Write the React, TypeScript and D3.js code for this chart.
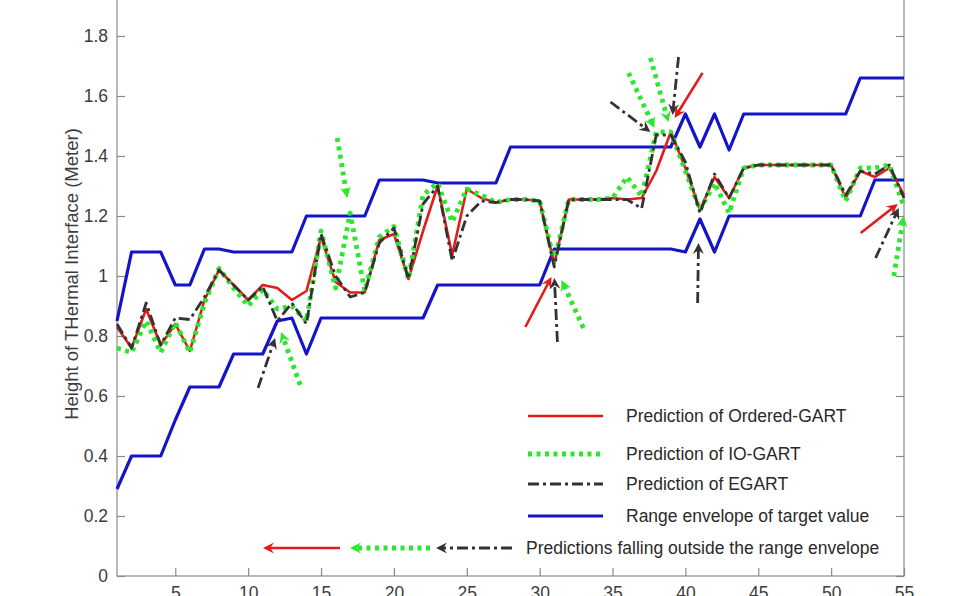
import React, { useEffect, useRef } from "react";
import * as d3 from "d3";

// sample index 1..55 on the x axis
const samples = d3.range(1, 56);

const upperEnvelope = [
  0.85, 1.08, 1.08, 1.08, 0.97, 0.97, 1.09, 1.09, 1.08, 1.08,
  1.08, 1.08, 1.08, 1.2, 1.2, 1.2, 1.2, 1.2, 1.32, 1.32,
  1.32, 1.32, 1.31, 1.31, 1.31, 1.31, 1.31, 1.43, 1.43, 1.43,
  1.43, 1.43, 1.43, 1.43, 1.43, 1.43, 1.43, 1.43, 1.43, 1.54,
  1.43, 1.54, 1.42, 1.54, 1.54, 1.54, 1.54, 1.54, 1.54, 1.54,
  1.54, 1.66, 1.66, 1.66, 1.66,
];

const lowerEnvelope = [
  0.29, 0.4, 0.4, 0.4, 0.52, 0.63, 0.63, 0.63, 0.74, 0.74,
  0.74, 0.85, 0.86, 0.74, 0.86, 0.86, 0.86, 0.86, 0.86, 0.86,
  0.86, 0.86, 0.97, 0.97, 0.97, 0.97, 0.97, 0.97, 0.97, 0.97,
  1.09, 1.09, 1.09, 1.09, 1.09, 1.09, 1.09, 1.09, 1.09, 1.08,
  1.19, 1.08, 1.2, 1.2, 1.2, 1.2, 1.2, 1.2, 1.2, 1.2,
  1.2, 1.2, 1.32, 1.32, 1.32,
];

const orderedGart = [
  0.83, 0.76, 0.89, 0.77, 0.84, 0.75, 0.92, 1.02, 0.97, 0.92,
  0.97, 0.96, 0.92, 0.95, 1.13, 0.98, 0.945, 0.945, 1.12, 1.14,
  0.99, 1.15, 1.3, 1.07, 1.29, 1.26, 1.245, 1.255, 1.255, 1.25,
  1.04, 1.255, 1.255, 1.255, 1.26, 1.255, 1.26, 1.35, 1.48, 1.36,
  1.22, 1.33, 1.26, 1.36, 1.37, 1.37, 1.37, 1.37, 1.37, 1.37,
  1.26, 1.35, 1.33, 1.36, 1.27,
];

const ioGart = [
  0.76, 0.745, 0.85, 0.745, 0.845, 0.745, 0.91, 1.025, 0.96, 0.9,
  0.955, 0.89, 0.9, 0.85, 1.15, 0.96, 1.21, 0.95, 1.13, 1.165,
  0.99, 1.27, 1.31, 1.18, 1.29, 1.27, 1.245, 1.255, 1.255, 1.25,
  1.05, 1.255, 1.255, 1.255, 1.26, 1.33, 1.265, 1.48, 1.48, 1.35,
  1.22, 1.31, 1.21, 1.36, 1.37, 1.37, 1.37, 1.37, 1.37, 1.37,
  1.25, 1.36, 1.36, 1.37, 1.23,
];

const egart = [
  0.84, 0.76, 0.91, 0.77, 0.86, 0.855, 0.93, 1.02, 0.97, 0.92,
  0.965, 0.85, 0.91, 0.84, 1.14, 1.0, 0.93, 0.945, 1.11, 1.16,
  0.99, 1.24, 1.3, 1.05, 1.2, 1.25, 1.245, 1.255, 1.255, 1.25,
  1.03, 1.255, 1.255, 1.255, 1.255, 1.255, 1.225, 1.47, 1.47, 1.38,
  1.21, 1.34, 1.26, 1.36, 1.37, 1.37, 1.37, 1.37, 1.37, 1.37,
  1.27, 1.35, 1.34, 1.37, 1.26,
];

const xTicks = [5, 10, 15, 20, 25, 30, 35, 40, 45, 50, 55];
const yTicks = [0, 0.2, 0.4, 0.6, 0.8, 1, 1.2, 1.4, 1.6, 1.8];
const yTickLabels = ["0", "0.2", "0.4", "0.6", "0.8", "1", "1.2", "1.4", "1.6", "1.8"];

// arrows marking predictions outside the envelope (data units: from -> to)
const outsideArrows = [
  { kind: "egart", x0: 10.68, y0: 0.627, x1: 11.85, y1: 0.793 },
  { kind: "io", x0: 13.57, y0: 0.637, x1: 12.26, y1: 0.813 },
  { kind: "io", x0: 16.11, y0: 1.46, x1: 16.8, y1: 1.26 },
  { kind: "ordered", x0: 29.02, y0: 0.83, x1: 30.81, y1: 0.997 },
  { kind: "egart", x0: 31.22, y0: 0.78, x1: 31.01, y1: 0.993 },
  { kind: "io", x0: 33.0, y0: 0.827, x1: 31.5, y1: 0.987 },
  { kind: "egart", x0: 34.86, y0: 1.58, x1: 37.6, y1: 1.48 },
  { kind: "io", x0: 36.1, y0: 1.677, x1: 37.88, y1: 1.493 },
  { kind: "io", x0: 37.6, y0: 1.727, x1: 38.84, y1: 1.513 },
  { kind: "egart", x0: 39.53, y0: 1.73, x1: 39.12, y1: 1.537 },
  { kind: "ordered", x0: 41.18, y0: 1.677, x1: 39.26, y1: 1.527 },
  { kind: "egart", x0: 40.84, y0: 0.91, x1: 40.9, y1: 1.11 },
  { kind: "ordered", x0: 52.03, y0: 1.143, x1: 54.57, y1: 1.24 },
  { kind: "egart", x0: 53.05, y0: 1.06, x1: 54.64, y1: 1.227 },
  { kind: "io", x0: 54.3, y0: 1.0, x1: 54.98, y1: 1.2 },
];

const styles: any = {
  ordered: { color: "#e41b1b", width: 2.6, dash: null, label: "Prediction of Ordered-GART" },
  io: { color: "#2ce82c", width: 4.8, dash: "4 4.5", label: "Prediction of IO-GART" },
  egart: { color: "#333333", width: 2.8, dash: "11 4 3 4", label: "Prediction of EGART" },
  envelope: { color: "#1414c8", width: 3.2, dash: null, label: "Range envelope of target value" },
};

const font = "'Liberation Sans', Arial, sans-serif";

function drawArrow(g: any, p0: number[], p1: number[], st: any) {
  const dx = p1[0] - p0[0];
  const dy = p1[1] - p0[1];
  const len = Math.hypot(dx, dy);
  const ux = dx / len;
  const uy = dy / len;
  const hl = 11;
  const hw = 5.5;
  const bx = p1[0] - ux * hl;
  const by = p1[1] - uy * hl;
  g.append("line")
    .attr("x1", p0[0]).attr("y1", p0[1])
    .attr("x2", p1[0] - ux * hl * 0.6).attr("y2", p1[1] - uy * hl * 0.6)
    .attr("stroke", st.color)
    .attr("stroke-width", st.width)
    .attr("stroke-dasharray", st.dash);
  const pts = [
    [p1[0], p1[1]],
    [bx - uy * hw, by + ux * hw],
    [p1[0] - ux * hl * 0.65, p1[1] - uy * hl * 0.65],
    [bx + uy * hw, by - ux * hw],
  ];
  g.append("polygon")
    .attr("points", pts.map((p) => p.join(",")).join(" "))
    .attr("fill", st.color);
}

export default function App() {
  const ref = useRef<SVGSVGElement>(null);

  useEffect(() => {
    const svg = d3.select(ref.current);
    svg.selectAll("*").remove();

    const xScale = d3.scaleLinear().domain([1, 55]).range([117, 904]);
    const yScale = d3.scaleLinear().domain([0, 2]).range([576, -24]);

    // box
    svg.append("rect")
      .attr("x", 117).attr("y", -24)
      .attr("width", 787).attr("height", 600)
      .attr("fill", "none")
      .attr("stroke", "#8a8a8a")
      .attr("stroke-width", 1.2);

    const yAxis = d3.axisLeft(yScale)
      .tickValues(yTicks)
      .tickFormat((d, i) => yTickLabels[i])
      .tickSize(-8)
      .tickPadding(9);
    const gy = svg.append("g").attr("transform", "translate(117,0)").call(yAxis);

    const yAxisRight = d3.axisRight(yScale).tickValues(yTicks).tickFormat(() => "").tickSize(-8);
    const gyr = svg.append("g").attr("transform", "translate(904,0)").call(yAxisRight);

    const xAxis = d3.axisBottom(xScale).tickValues(xTicks).tickSize(-8).tickPadding(11);
    const gx = svg.append("g").attr("transform", "translate(0,576)").call(xAxis);

    [gy, gyr, gx].forEach((g) => {
      g.select(".domain").remove();
      g.selectAll("line").attr("stroke", "#8a8a8a").attr("stroke-width", 1.2);
      g.selectAll("text")
        .attr("font-family", font)
        .attr("font-size", 17.5)
        .attr("fill", "#3c3c3c");
    });

    // y label
    svg.append("text")
      .attr("transform", "translate(72,274) rotate(-90)")
      .attr("text-anchor", "middle")
      .attr("dy", "0.35em")
      .attr("font-family", font)
      .attr("font-size", 18.5)
      .attr("fill", "#3c3c3c")
      .text("Height of THermal Interface (Meter)");

    const line = d3.line<number>()
      .x((d, i) => xScale(samples[i]))
      .y((d) => yScale(d));

    const plot = svg.append("g");
    const series = [
      { values: upperEnvelope, st: styles.envelope },
      { values: lowerEnvelope, st: styles.envelope },
      { values: orderedGart, st: styles.ordered },
      { values: ioGart, st: styles.io },
      { values: egart, st: styles.egart },
    ];
    series.forEach((s) => {
      plot.append("path")
        .attr("d", line(s.values))
        .attr("fill", "none")
        .attr("stroke", s.st.color)
        .attr("stroke-width", s.st.width)
        .attr("stroke-dasharray", s.st.dash)
        .attr("stroke-linejoin", "round");
    });

    // outside arrows
    const arrows = svg.append("g");
    outsideArrows.forEach((a) => {
      drawArrow(
        arrows,
        [xScale(a.x0), yScale(a.y0)],
        [xScale(a.x1), yScale(a.y1)],
        styles[a.kind]
      );
    });

    // legend
    const legend = svg.append("g");
    const rows = [
      { st: styles.ordered, y: 416 },
      { st: styles.io, y: 454 },
      { st: styles.egart, y: 484 },
      { st: styles.envelope, y: 516 },
    ];
    rows.forEach((r) => {
      legend.append("line")
        .attr("x1", 528).attr("x2", 603)
        .attr("y1", r.y).attr("y2", r.y)
        .attr("stroke", r.st.color)
        .attr("stroke-width", r.st.width)
        .attr("stroke-dasharray", r.st.dash);
      legend.append("text")
        .attr("x", 626).attr("y", r.y)
        .attr("dy", "0.35em")
        .attr("font-family", font)
        .attr("font-size", 17.5)
        .attr("fill", "#2a2a2a")
        .text(r.st.label);
    });
    drawArrow(legend, [340, 548], [263, 548], styles.ordered);
    drawArrow(legend, [430, 548], [350, 548], styles.io);
    drawArrow(legend, [512, 548], [436, 548], styles.egart);
    legend.append("text")
      .attr("x", 526).attr("y", 548)
      .attr("dy", "0.35em")
      .attr("font-family", font)
      .attr("font-size", 17.5)
      .attr("fill", "#2a2a2a")
      .text("Predictions falling outside the range envelope");
  }, []);

  return (
    <div style={{ position: "absolute", left: 0, top: 0 }}>
      <svg ref={ref} width={960} height={596} style={{ display: "block", background: "#fff" }} />
    </div>
  );
}
